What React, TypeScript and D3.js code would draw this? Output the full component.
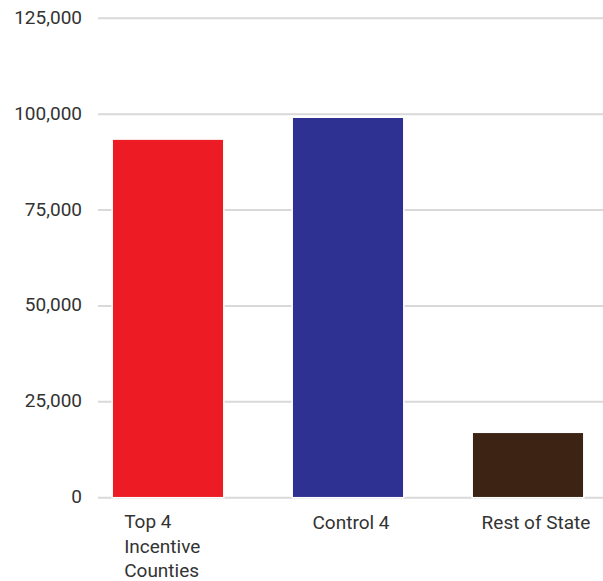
import React from "react";
import * as d3 from "d3";

const categories: string[] = ["Top 4 Incentive Counties", "Control 4", "Rest of State"];
const labelLines: string[][] = [["Top 4", "Incentive", "Counties"], ["Control 4"], ["Rest of State"]];
const values: number[] = [93500, 99200, 17050];
const colors: string[] = ["#ED1C24", "#2E3192", "#3D2314"];
const tickValues: number[] = [0, 25000, 50000, 75000, 100000, 125000];

const W = 603;
const H = 581;

export default function App() {
  const x = d3.scaleBand<string>().domain(categories).range([78, 618]).paddingInner(0.38).paddingOuter(0.19);
  const y = d3.scaleLinear().domain([0, 125000]).range([497.7, 18.3]);
  const fmt = d3.format(",");
  const font = "Roboto, 'Open Sans', sans-serif";
  const bw = x.bandwidth();
  return (
    <svg width={W} height={H} style={{ position: "absolute", left: 0, top: 0, background: "#fff" }}>
      {tickValues.map((t) => (
        <g key={t}>
          <line x1={98} x2={603} y1={y(t)} y2={y(t)} stroke="#d9d9d9" strokeWidth={2} />
          <text x={82} y={y(t) + 5.5} textAnchor="end" fontFamily={font} fontSize={19} fill="#333">
            {fmt(t)}
          </text>
        </g>
      ))}
      {categories.map((c, i) => (
        <rect
          key={c}
          x={x(c)!}
          y={y(values[i])}
          width={bw}
          height={y(0) - y(values[i])}
          fill={colors[i]}
          stroke="#fff"
          strokeWidth={1.5}
        />
      ))}
      {categories.map((c, i) => {
        const lines = labelLines[i];
        const cx = x(c)! + bw / 2;
        if (lines.length > 1) {
          return (
            <text key={c} x={x(c)! + 12} y={528} textAnchor="start" fontFamily={font} fontSize={19} fill="#333">
              {lines.map((l, j) => (
                <tspan key={j} x={x(c)! + 12} dy={j === 0 ? 0 : 24.5}>
                  {l}
                </tspan>
              ))}
            </text>
          );
        }
        return (
          <text key={c} x={cx + (i === 2 ? 8 : 3)} y={529} textAnchor="middle" fontFamily={font} fontSize={19} fill="#333">
            {lines[0]}
          </text>
        );
      })}
    </svg>
  );
}
